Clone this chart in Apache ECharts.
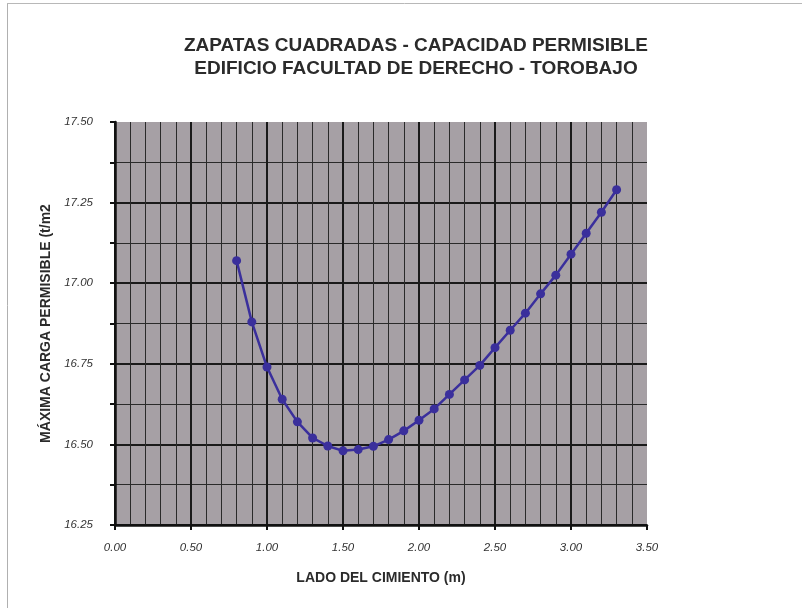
<!DOCTYPE html>
<html>
<head>
<meta charset="utf-8">
<script src="https://cdn.jsdelivr.net/npm/echarts@6/dist/echarts.min.js"></script>
<style>html,body{margin:0;padding:0;background:#fff}#c{width:802px;height:608px}</style>
</head>
<body>
<div id="c"></div>
<script>
var titleLines = ['ZAPATAS CUADRADAS - CAPACIDAD PERMISIBLE', 'EDIFICIO FACULTAD DE DERECHO - TOROBAJO'];
var xName = 'LADO DEL CIMIENTO (m)';
var yName = 'MÁXIMA CARGA PERMISIBLE (t/m2';
var lado = [0.8,0.9,1.0,1.1,1.2,1.3,1.4,1.5,1.6,1.7,1.8,1.9,2.0,2.1,2.2,2.3,2.4,2.5,2.6,2.7,2.8,2.9,3.0,3.1,3.2,3.3];
var carga = [17.07,16.88,16.74,16.64,16.57,16.52,16.495,16.48,16.484,16.494,16.515,16.542,16.575,16.61,16.655,16.70,16.745,16.80,16.854,16.907,16.967,17.025,17.09,17.155,17.22,17.29];

var chart = echarts.init(document.getElementById('c'));
chart.setOption({
  backgroundColor: '#ffffff',
  animation: false,
  title: {
    text: titleLines.join('\n'),
    left: 411, top: 29, textAlign: 'center',
    textStyle: {fontFamily: 'Liberation Sans', fontWeight: 'bold', fontSize: 19, color: '#2b2b2b', lineHeight: 23}
  },
  graphic: [
    {type: 'line', shape: {x1: 7.5, y1: 3, x2: 7.5, y2: 608}, silent: true, style: {stroke: '#b0b0b0', lineWidth: 1}},
    {type: 'line', shape: {x1: 7, y1: 3.5, x2: 802, y2: 3.5}, silent: true, style: {stroke: '#b8b8b8', lineWidth: 1}}
  ],
  grid: {left: 115, right: 155, top: 122, bottom: 83, show: true, backgroundColor: '#a6a0a5', borderWidth: 0},
  xAxis: {
    type: 'value', min: 0, max: 3.5, interval: 0.5,
    name: xName, nameLocation: 'middle', nameGap: 46,
    nameTextStyle: {fontFamily: 'Liberation Sans', fontWeight: 'bold', fontSize: 14, color: '#2b2b2b'},
    axisLine: {show: true, onZero: false, lineStyle: {color: '#111', width: 2.5}},
    axisTick: {show: true, length: 5, lineStyle: {color: '#111', width: 2}},
    axisLabel: {formatter: function(v){return v.toFixed(2);}, fontFamily: 'Liberation Sans', fontStyle: 'italic', fontSize: 11.5, color: '#333', margin: 17},
    splitLine: {show: true, showMaxLine: false, lineStyle: {color: '#1a1a1a', width: 2}},
    minorTick: {show: false, splitNumber: 5},
    minorSplitLine: {show: true, lineStyle: {color: '#2a2a2a', width: 1}}
  },
  yAxis: {
    type: 'value', min: 16.25, max: 17.5, interval: 0.25,
    name: yName, nameLocation: 'middle', nameGap: 60,
    nameTextStyle: {fontFamily: 'Liberation Sans', fontWeight: 'bold', fontSize: 14, color: '#2b2b2b'},
    axisLine: {show: true, onZero: false, lineStyle: {color: '#111', width: 2.5}},
    axisTick: {show: true, length: 5, lineStyle: {color: '#111', width: 2}},
    minorTick: {show: true, splitNumber: 2, length: 5, lineStyle: {color: '#111', width: 2}},
    axisLabel: {formatter: function(v){return v.toFixed(2);}, fontFamily: 'Liberation Sans', fontStyle: 'italic', fontSize: 11.5, color: '#333', margin: 22},
    splitLine: {show: true, showMaxLine: false, lineStyle: {color: '#1a1a1a', width: 2}},
    minorSplitLine: {show: true, lineStyle: {color: '#2a2a2a', width: 1}}
  },
  series: [{
    type: 'line',
    data: lado.map(function(x, i){return [x, carga[i]];}),
    symbol: 'circle', symbolSize: 9,
    lineStyle: {color: '#3a2f9c', width: 2.5},
    itemStyle: {color: '#3a2f9c'}
  }]
});
</script>
</body>
</html>
